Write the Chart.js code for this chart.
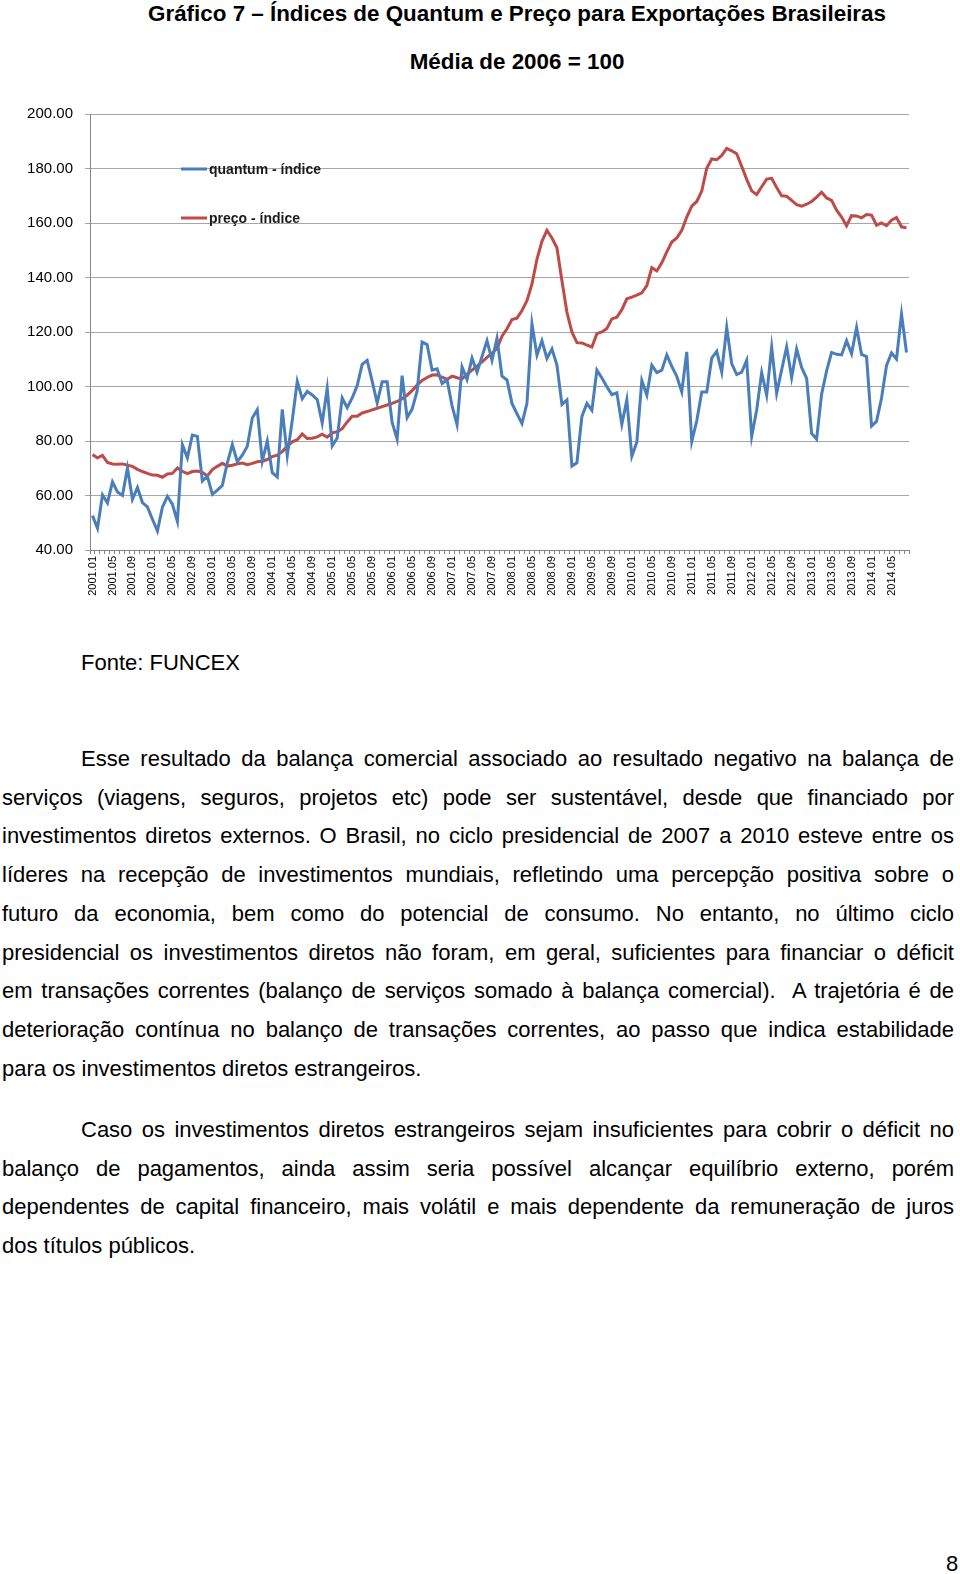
<!DOCTYPE html>
<html>
<head>
<meta charset="utf-8">
<script src="https://cdn.jsdelivr.net/npm/chart.js@4.4.0/dist/chart.umd.min.js"></script>
<style>
  html, body { margin: 0; padding: 0; background: #fff; }
  body { width: 960px; height: 1574px; position: relative; overflow: hidden; font-family: "Liberation Sans", Arial, sans-serif; color: #000; }
  .title { position: absolute; left: 0; width: 1034px; text-align: center; font-family: "Liberation Sans Narrow", "Liberation Sans", sans-serif; font-weight: bold; font-size: 22.4px; line-height: 26px; }
  #chartBox { position: absolute; left: 0; top: 93px; width: 960px; height: 517px; }
  .fonte { position: absolute; left: 81px; top: 644px; font-size: 22px; line-height: 38.7px; }
  .para { position: absolute; left: 2px; width: 952px; font-size: 22px; line-height: 38.7px; }
  .para span { display: block; text-align: justify; text-align-last: justify; }
  .para span.first { padding-left: 79px; }
  .para span.last { text-align-last: left; }
  .page { position: absolute; left: 946px; top: 1545px; font-size: 22px; line-height: 38px; }
</style>
</head>
<body>

<div class="title" style="top:1px">Gráfico 7 – Índices de Quantum e Preço para Exportações Brasileiras</div>
<div class="title" style="top:49px">Média de 2006 = 100</div>

<div id="chartBox"><canvas id="exportChart"></canvas></div>

<div class="fonte">Fonte: FUNCEX</div>

<div class="para" style="top:740px">
  <span class="first">Esse resultado da balança comercial associado ao resultado negativo na balança de</span>
  <span>serviços (viagens, seguros, projetos etc) pode ser sustentável, desde que financiado por</span>
  <span>investimentos diretos externos. O Brasil, no ciclo presidencial de 2007 a 2010 esteve entre os</span>
  <span>líderes na recepção de investimentos mundiais, refletindo uma percepção positiva sobre o</span>
  <span>futuro da economia, bem como do potencial de consumo. No entanto, no último ciclo</span>
  <span>presidencial os investimentos diretos não foram, em geral, suficientes para financiar o déficit</span>
  <span>em transações correntes (balanço de serviços somado à balança comercial).&nbsp; A trajetória é de</span>
  <span>deterioração contínua no balanço de transações correntes, ao passo que indica estabilidade</span>
  <span class="last">para os investimentos diretos estrangeiros.</span>
</div>

<div class="para" style="top:1111px">
  <span class="first">Caso os investimentos diretos estrangeiros sejam insuficientes para cobrir o déficit no</span>
  <span>balanço de pagamentos, ainda assim seria possível alcançar equilíbrio externo, porém</span>
  <span>dependentes de capital financeiro, mais volátil e mais dependente da remuneração de juros</span>
  <span class="last">dos títulos públicos.</span>
</div>

<div class="page">8</div>

<script>
// séries mensais, 2001.01 a 2014.08 (média de 2006 = 100)
const years = [2001, 2002, 2003, 2004, 2005, 2006, 2007, 2008, 2009, 2010, 2011, 2012, 2013, 2014];
const lastMonth = 8;

const quantum = [
  52.6, 48, 60.2, 57.3, 65, 61.3, 60, 70.1, 58.6, 62.9, 57.4, 55.8,
  51.3, 47, 55.7, 59.7, 56.8, 50.5, 78.6, 73.8, 82.2, 81.7, 65.3, 67.1,
  60.4, 62, 63.7, 72, 78.7, 72.4, 74.8, 78.1, 88.4, 91.5, 72.6, 80,
  68.4, 66.8, 91.6, 74.6, 87.5, 101.9, 95.5, 98.2, 96.9, 95.2, 86.6, 99.3,
  78.2, 81.1, 95.8, 92.2, 95.8, 100.3, 108.1, 109.6, 102, 94, 101.7, 101.7,
  86.8, 80.7, 104, 88.6, 91.7, 98.3, 116.3, 115.4, 106, 106.5, 101.1, 102.5,
  92.9, 86, 107.2, 102.6, 110.4, 105.2, 111, 116.8, 109.6, 117.7, 103.8, 102.4,
  93.8, 90, 86.4, 93.8, 123, 111.5, 116.8, 110.3, 113.8, 107.9, 93.4, 95.1,
  70.8, 72, 89, 93.8, 91.3, 106, 103.1, 99.9, 97, 97.7, 86.1, 95.1,
  74.4, 79.6, 102.2, 96.8, 107.8, 105.1, 106, 111.6, 107.4, 103.7, 98, 112.7,
  79.8, 87.4, 98, 98, 110.4, 112.9, 105.3, 121.7, 108.4, 104.4, 105.3, 109.6,
  81.7, 91.4, 105.1, 96.8, 114.4, 97.5, 106.1, 114.6, 103.3, 113.7, 107, 103,
  82.8, 80.7, 97.2, 105.7, 112.5, 111.8, 111.6, 116.8, 112, 121.7, 111.8, 111,
  85.5, 87.2, 95.8, 107.7, 112.3, 110.1, 126.6, 112.5
];

const preco = [
  75, 73.8, 74.7, 72.1, 71.6, 71.5, 71.6, 71.1, 70.7, 69.6, 68.8, 68.1,
  67.5, 67.4, 66.7, 67.9, 68.1, 70.1, 68.9, 68, 68.8, 69, 68.5, 67.2,
  69.5, 70.7, 71.8, 70.8, 71.1, 71.6, 71.9, 71.3, 71.8, 72.4, 72.6, 73.2,
  74.3, 74.8, 76.1, 78.1, 79.7, 80.5, 82.6, 80.9, 81, 81.5, 82.5, 81.4,
  83, 83.4, 84.5, 87, 89.1, 89.1, 90.3, 90.8, 91.4, 92, 92.6, 93.2,
  93.8, 94.5, 95.5, 96.8, 98.5, 100.5, 102.2, 103.3, 104.2, 104.3, 103.4, 102.6,
  103.8, 103.2, 102.8, 104.5, 106, 107.5, 109, 110.7, 112.2, 114, 118.5, 121.2,
  124.6, 125.1, 127.9, 131.5, 137.6, 146.7, 153.3, 157.3, 154.5, 150.9, 138.8, 127.3,
  120, 116.1, 116, 115.2, 114.5, 119.4, 120, 121.3, 124.8, 125.4, 128.2, 132.2,
  132.8, 133.5, 134.4, 137, 143.6, 142.4, 145.4, 149.4, 153, 154.5, 157.3, 162.2,
  166.2, 167.9, 171.7, 180.1, 183.5, 183.2, 184.8, 187.4, 186.5, 185.4, 180.8, 176,
  171.8, 170.4, 173.3, 176.1, 176.4, 173, 170, 169.8, 168.3, 166.7, 166.2, 166.9,
  167.9, 169.5, 171.3, 169.2, 168.3, 164.7, 162.2, 159, 162.7, 162.6, 161.9, 163.1,
  162.9, 159.2, 160, 159, 161, 162, 158.6, 158.2
];

const yTicks = [40, 60, 80, 100, 120, 140, 160, 180, 200];

// rótulos "aaaa.mm"
const months = [];
years.forEach(y => {
  const n = y === years[years.length - 1] ? lastMonth : 12;
  for (let m = 1; m <= n; m++) months.push(y + '.' + String(m).padStart(2, '0'));
});

// legenda dentro da área do gráfico, como no Excel
const insideLegend = {
  id: 'insideLegend',
  afterDatasetsDraw(chart) {
    const ctx = chart.ctx, area = chart.chartArea;
    chart.data.datasets.forEach((ds, k) => {
      const y = area.top + 55 + k * 49;
      const x = area.left + 91;
      ctx.save();
      ctx.strokeStyle = ds.borderColor;
      ctx.lineWidth = 3;
      ctx.beginPath();
      ctx.moveTo(x, y);
      ctx.lineTo(x + 26, y);
      ctx.stroke();
      ctx.fillStyle = '#1a1a1a';
      ctx.font = 'bold 14px "Liberation Sans", Arial, sans-serif';
      ctx.textBaseline = 'middle';
      ctx.fillText(ds.label, x + 28, y + 1);
      ctx.restore();
    });
  }
};

new Chart(document.getElementById('exportChart'), {
  type: 'line',
  data: {
    labels: months,
    datasets: [{
      label: 'quantum - índice',
      data: quantum,
      borderColor: '#4a7ebb',
      borderWidth: 3,
      pointRadius: 0,
      tension: 0
    }, {
      label: 'preço - índice',
      data: preco,
      borderColor: '#be4b48',
      borderWidth: 3,
      pointRadius: 0,
      tension: 0
    }]
  },
  options: {
    responsive: true,
    maintainAspectRatio: false,
    animation: false,
    layout: { padding: { top: 7, right: 51, left: 0, bottom: 0 } },
    plugins: {
      legend: { display: false },
      title: { display: false },
      tooltip: { enabled: false }
    },
    scales: {
      x: {
        type: 'category',
        offset: true,
        grid: { drawOnChartArea: false, drawTicks: true, tickLength: 4, color: '#868686', offset: true },
        border: { display: true, color: '#868686' },
        ticks: {
          autoSkip: false,
          maxRotation: 90,
          minRotation: 90,
          padding: 2,
          color: '#000',
          font: { family: 'Liberation Sans', size: 11 },
          callback: (v, i) => i % 4 === 0 ? months[i] : ''
        },
        afterFit(s) { s.height = 60; }
      },
      y: {
        min: yTicks[0],
        max: yTicks[yTicks.length - 1],
        afterBuildTicks(s) { s.ticks = yTicks.map(v => ({ value: v })); },
        grid: { color: '#a6a6a6', tickLength: 5 },
        border: { display: true, color: '#868686' },
        ticks: {
          padding: 12,
          color: '#000',
          font: { family: 'Liberation Sans', size: 15 },
          callback: v => Number(v).toFixed(2)
        },
        afterFit(s) { s.width = 90; }
      }
    }
  },
  plugins: [insideLegend]
});
</script>
</body>
</html>
